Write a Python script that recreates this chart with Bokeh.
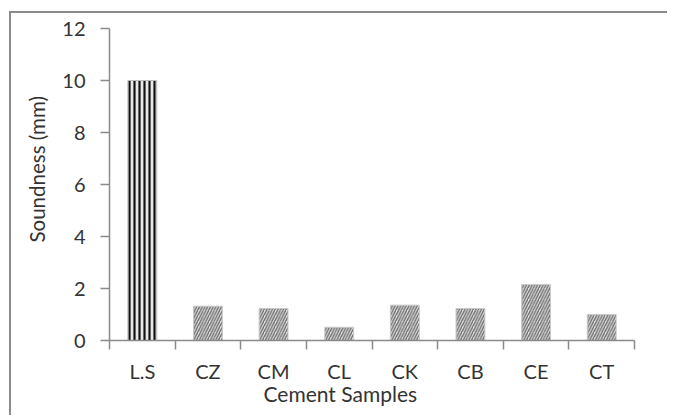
import numpy as np
from bokeh.plotting import figure
from bokeh.models import (LinearAxis, FixedTicker, ColumnDataSource, Title, FactorRange)
from bokeh.embed import file_html
from bokeh.resources import INLINE

categories = ["L.S", "CZ", "CM", "CL", "CK", "CB", "CE", "CT"]
soundness = [10.0, 1.32, 1.23, 0.51, 1.36, 1.23, 2.15, 1.0]
y_ticks = [0, 2, 4, 6, 8, 10, 12]
x_title = "Cement Samples"
y_title = "Soundness (mm)"

FONT = "Lato"
TXT = "#333333"
AX = "#8a8a8a"

p = figure(width=658, height=404, x_range=FactorRange(*categories, range_padding=0),
           y_range=(0, 12), x_axis_type=None, y_axis_type=None,
           output_backend="svg", toolbar_location=None,
           min_border_left=98, min_border_right=35, min_border_top=15, min_border_bottom=77)
p.grid.visible = False
p.outline_line_color = None
p.background_fill_color = "white"
p.border_fill_color = "white"
p.styles = {"margin-left": "9px", "margin-top": "11px",
            "border-left": "2px solid #8a8a8a", "border-top": "2px solid #8a8a8a"}

src_ref = ColumnDataSource(dict(x=categories[:1], top=soundness[:1]))
src_smp = ColumnDataSource(dict(x=categories[1:], top=soundness[1:]))

p.vbar(x="x", top="top", width=0.44, source=src_ref, fill_color="#e8e8e8",
       line_color="#bbbbbb", line_width=1, hatch_pattern="|", hatch_color="#111111",
       hatch_weight=2.2, hatch_scale=5)
p.vbar(x="x", top="top", width=0.44, source=src_smp, fill_color="#e4e4e4",
       line_color="#c8c8c8", line_width=1, hatch_pattern="/", hatch_color="#6e6e6e",
       hatch_weight=1.4, hatch_scale=5.5)

n = len(categories)
centers = [i + 0.5 for i in range(n)]
xaxis = LinearAxis(ticker=FixedTicker(ticks=centers, minor_ticks=list(range(n + 1))),
                   major_label_overrides={c: lab for c, lab in zip(centers, categories)})
xaxis.axis_line_color = AX
xaxis.axis_line_width = 1.5
xaxis.major_tick_line_color = None
xaxis.major_tick_out = 9
xaxis.major_tick_in = 0
xaxis.minor_tick_line_color = AX
xaxis.minor_tick_line_width = 1.5
xaxis.minor_tick_out = 9
xaxis.minor_tick_in = 0
xaxis.major_label_standoff = 9
xaxis.major_label_text_font = FONT
xaxis.major_label_text_font_size = "20px"
xaxis.major_label_text_color = TXT
p.add_layout(xaxis, "below")

yaxis = LinearAxis(ticker=FixedTicker(ticks=y_ticks))
yaxis.axis_line_color = AX
yaxis.axis_line_width = 1.5
yaxis.major_tick_line_color = AX
yaxis.major_tick_line_width = 1.5
yaxis.major_tick_out = 9
yaxis.major_tick_in = 0
yaxis.minor_tick_line_color = None
yaxis.major_label_standoff = 15
yaxis.major_label_text_font = FONT
yaxis.major_label_text_font_size = "20px"
yaxis.major_label_text_color = TXT
p.add_layout(yaxis, "left")

p.add_layout(Title(text=x_title, align="left", offset=154, standoff=-10, vertical_align="top",
                   text_font=FONT, text_font_size="21px", text_font_style="normal",
                   text_color=TXT), "below")
p.add_layout(Title(text=y_title, align="left", offset=98, standoff=22,
                   text_font=FONT, text_font_size="20.5px", text_font_style="normal",
                   text_color=TXT), "left")

open("out.html", "w").write(file_html(p, INLINE))
